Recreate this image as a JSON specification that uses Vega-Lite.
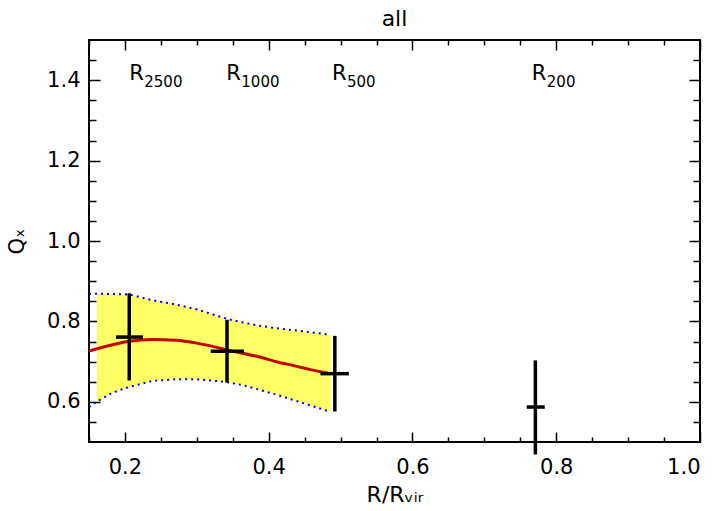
{
  "$schema": "https://vega.github.io/schema/vega-lite/v6.json",
  "autosize": "none",
  "width": 611,
  "height": 402,
  "padding": {"left": 89, "top": 40, "right": 19, "bottom": 69},
  "background": "white",
  "title": {"text": "all", "fontSize": 22, "fontWeight": "normal", "font": "DejaVu Sans", "frame": "group", "offset": 8, "color": "black"},
  "config": {
    "view": {"stroke": "black", "strokeWidth": 2},
    "axis": {"domain": false, "grid": false, "tickColor": "black", "tickWidth": 1.5, "labelFont": "DejaVu Sans", "labelFontSize": 21, "labelColor": "black", "titleFont": "DejaVu Sans", "titleFontSize": 20, "titleFontWeight": "normal", "titleColor": "black"}
  },
  "datasets": {
    "band": [
      {"x": 0.15, "hi": 0.869, "lo": 0.587, "mid": 0.726},
      {"x": 0.161, "hi": 0.869, "lo": 0.601, "mid": 0.732},
      {"x": 0.183, "hi": 0.868, "lo": 0.623, "mid": 0.742},
      {"x": 0.206, "hi": 0.867, "lo": 0.637, "mid": 0.7505},
      {"x": 0.2385, "hi": 0.8525, "lo": 0.652, "mid": 0.7547},
      {"x": 0.2708, "hi": 0.842, "lo": 0.656, "mid": 0.753},
      {"x": 0.3, "hi": 0.83, "lo": 0.656, "mid": 0.746},
      {"x": 0.3264, "hi": 0.815, "lo": 0.652, "mid": 0.736},
      {"x": 0.345, "hi": 0.805, "lo": 0.648, "mid": 0.728},
      {"x": 0.365, "hi": 0.797, "lo": 0.641, "mid": 0.72},
      {"x": 0.389, "hi": 0.7885, "lo": 0.629, "mid": 0.711},
      {"x": 0.412, "hi": 0.783, "lo": 0.617, "mid": 0.699},
      {"x": 0.435, "hi": 0.778, "lo": 0.604, "mid": 0.69},
      {"x": 0.458, "hi": 0.773, "lo": 0.591, "mid": 0.68},
      {"x": 0.486, "hi": 0.767, "lo": 0.575, "mid": 0.67}
    ],
    "pts": [
      {"x": 0.206, "y": 0.761, "ylo": 0.653, "yhi": 0.87, "xlo": 0.1875, "xhi": 0.225},
      {"x": 0.342, "y": 0.726, "ylo": 0.648, "yhi": 0.804, "xlo": 0.3194, "xhi": 0.3657},
      {"x": 0.492, "y": 0.67, "ylo": 0.576, "yhi": 0.764, "xlo": 0.472, "xhi": 0.5115},
      {"x": 0.771, "y": 0.587, "ylo": 0.469, "yhi": 0.703, "xlo": 0.759, "xhi": 0.784}
    ],
    "labels": [
      {"x": 0.206, "main": "R", "sub": "2500"},
      {"x": 0.341, "main": "R", "sub": "1000"},
      {"x": 0.488, "main": "R", "sub": "500"},
      {"x": 0.766, "main": "R", "sub": "200"}
    ]
  },
  "resolve": {"axis": {"x": "independent", "y": "independent"}},
  "layer": [
    {
      "data": {"name": "band"},
      "transform": [{"filter": "datum.x >= 0.16"}],
      "mark": {"type": "area", "color": "#ffff66", "opacity": 1},
      "encoding": {
        "x": {"field": "x", "type": "quantitative", "scale": {"domain": [0.15, 1.0], "nice": false, "zero": false},
          "axis": {"orient": "bottom", "values": [0.2, 0.4, 0.6, 0.8, 1.0], "format": ".1f", "tickSize": -10, "labelPadding": 24, "labelFontSize": 21, "title": "R/Rᵥᵢᵣ", "titleFontSize": 22, "titlePadding": 7}},
        "y": {"field": "hi", "type": "quantitative", "scale": {"domain": [0.5, 1.5], "nice": false, "zero": false},
          "axis": {"orient": "left", "values": [0.6, 0.8, 1.0, 1.2, 1.4], "format": ".1f", "tickSize": -11, "labelPadding": 20, "labelFontSize": 21, "title": "Qₓ", "titleFontSize": 21, "titlePadding": 19}},
        "y2": {"field": "lo"}
      }
    },
    {
      "data": {"name": "band"},
      "mark": {"type": "line", "color": "#0000ff", "strokeWidth": 2, "strokeDash": [2, 4], "strokeCap": "butt"},
      "encoding": {
        "x": {"field": "x", "type": "quantitative", "axis": {"orient": "top", "values": [0.2, 0.4, 0.6, 0.8, 1.0], "tickSize": -10, "labels": false, "title": null}},
        "y": {"field": "hi", "type": "quantitative", "axis": {"orient": "right", "values": [0.6, 0.8, 1.0, 1.2, 1.4], "tickSize": -11, "labels": false, "title": null}}
      }
    },
    {
      "data": {"name": "band"},
      "mark": {"type": "line", "color": "#0000ff", "strokeWidth": 2, "strokeDash": [2, 4], "strokeCap": "butt"},
      "encoding": {
        "x": {"field": "x", "type": "quantitative", "axis": {"orient": "bottom", "values": [0.15, 0.25, 0.3, 0.35, 0.45, 0.5, 0.55, 0.65, 0.7, 0.75, 0.85, 0.9, 0.95], "tickSize": -5, "labels": false, "title": null}},
        "y": {"field": "lo", "type": "quantitative", "axis": {"orient": "left", "values": [0.55, 0.65, 0.7, 0.75, 0.85, 0.9, 0.95, 1.05, 1.1, 1.15, 1.25, 1.3, 1.35, 1.45], "tickSize": -7, "labels": false, "title": null}}
      }
    },
    {
      "data": {"name": "band"},
      "mark": {"type": "line", "color": "#c40000", "strokeWidth": 3, "interpolate": "monotone"},
      "encoding": {
        "x": {"field": "x", "type": "quantitative", "axis": {"orient": "top", "values": [0.15, 0.25, 0.3, 0.35, 0.45, 0.5, 0.55, 0.65, 0.7, 0.75, 0.85, 0.9, 0.95], "tickSize": -5, "labels": false, "title": null}},
        "y": {"field": "mid", "type": "quantitative", "axis": {"orient": "right", "values": [0.55, 0.65, 0.7, 0.75, 0.85, 0.9, 0.95, 1.05, 1.1, 1.15, 1.25, 1.3, 1.35, 1.45], "tickSize": -7, "labels": false, "title": null}}
      }
    },
    {
      "mark": {"type": "rule", "color": "black", "strokeWidth": 2, "strokeDash": [8, 7]},
      "encoding": {"y": {"datum": 1.0, "type": "quantitative", "axis": null}}
    },
    {
      "data": {"name": "pts"},
      "mark": {"type": "rule", "color": "black", "strokeWidth": 3.5},
      "encoding": {
        "x": {"field": "x", "type": "quantitative", "axis": null},
        "y": {"field": "ylo", "type": "quantitative", "axis": null},
        "y2": {"field": "yhi"}
      }
    },
    {
      "data": {"name": "pts"},
      "mark": {"type": "rule", "color": "black", "strokeWidth": 3.5},
      "encoding": {
        "x": {"field": "xlo", "type": "quantitative", "axis": null},
        "x2": {"field": "xhi"},
        "y": {"field": "y", "type": "quantitative", "axis": null}
      }
    },
    {
      "data": {"name": "labels"},
      "mark": {"type": "text", "align": "left", "baseline": "alphabetic", "font": "DejaVu Sans", "fontSize": 21, "color": "black"},
      "encoding": {
        "x": {"field": "x", "type": "quantitative", "axis": null},
        "y": {"datum": 1.4, "type": "quantitative", "axis": null},
        "text": {"field": "main"}
      }
    },
    {
      "data": {"name": "labels"},
      "mark": {"type": "text", "align": "left", "baseline": "alphabetic", "font": "DejaVu Sans", "fontSize": 15, "color": "black", "dx": 15, "dy": 7},
      "encoding": {
        "x": {"field": "x", "type": "quantitative", "axis": null},
        "y": {"datum": 1.4, "type": "quantitative", "axis": null},
        "text": {"field": "sub"}
      }
    }
  ]
}
